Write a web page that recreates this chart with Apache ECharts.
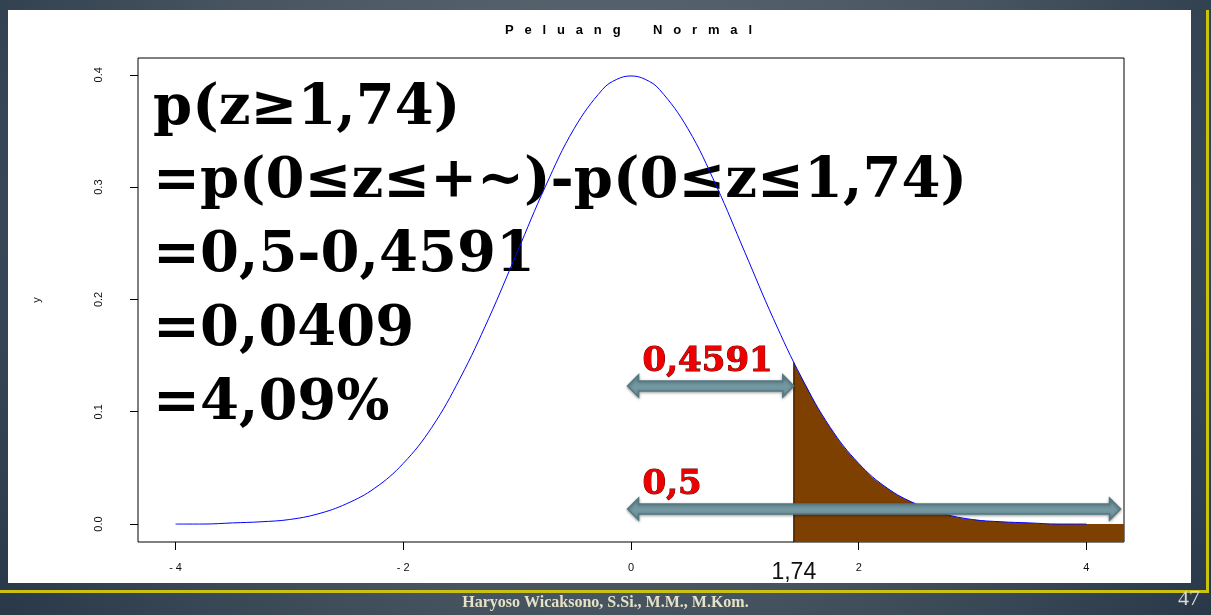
<!DOCTYPE html>
<html lang="id">
<head>
    <meta charset="UTF-8">
    <title>Peluang Normal</title>
    <style>
        html,
        body {
            margin: 0px;
            padding: 0px;
            width: 100%;
            height: 100%;
            overflow: hidden;
        }
        body {
            background: radial-gradient(ellipse 75% 130% at 50% 35%, #636e77 0%, #4a5763 45%, #1a2b3d 100%);
        }
        #panel {
            position: absolute;
            left: 8px;
            top: 10px;
            width: 1183px;
            height: 573px;
            background: #fff;
        }
        #lineH {
            position: absolute;
            left: 0px;
            top: 590px;
            width: 1209px;
            height: 3px;
            background: #c9c30f;
        }
        #lineV {
            position: absolute;
            left: 1206px;
            top: 10px;
            width: 3px;
            height: 583px;
            background: #c9c30f;
        }
        #echarts {
            position: absolute;
            left: 0px;
            top: 0px;
            width: 1211px;
            height: 615px;
        }
    </style>
</head>
<body>
    <div id="panel"></div>
    <div id="lineH"></div>
    <div id="lineV"></div>
    <div id="echarts"></div>
    <script src="https://cdn.jsdelivr.net/npm/echarts@6/dist/echarts.min.js"></script>
    <script>
        // kurva normal baku
        var curveX = [-4, -3.75, -3.5, -3.25, -3, -2.75, -2.5, -2.25, -2, -1.75, -1.5, -1.25, -1, -0.75, -0.5, -0.25, -0.125,
            0, 0.125, 0.25, 0.5, 0.75, 1, 1.25, 1.5, 1.75, 2, 2.25, 2.5, 2.75, 3, 3.25, 3.5, 3.75, 4];
        var curveY = [0.000, 0.000, 0.001, 0.002, 0.004, 0.009, 0.018, 0.032, 0.054, 0.086, 0.130, 0.183, 0.242, 0.301, 0.352, 0.387, 0.396,
            0.399, 0.396, 0.387, 0.352, 0.301, 0.242, 0.183, 0.130, 0.086, 0.054, 0.032, 0.018, 0.009, 0.004, 0.002, 0.001, 0.000, 0.000];

        // daerah yang diarsir (ekor kanan)
        var shadeX = [1.43, 1.5, 1.75, 2, 2.25, 2.5, 2.75, 3, 3.25, 3.5, 3.75, 4, 4.33];
        var shadeY = [0.144, 0.130, 0.086, 0.054, 0.032, 0.018, 0.009, 0.004, 0.002, 0.001, 0.000, 0.000, 0.000];
        var cutLabel = '1,74';

        // panah keterangan
        var arrowFrom = [-0.03, -0.03];
        var arrowTo = [1.43, 4.30];
        var arrowY = [0.123, 0.0134];
        var arrowText = ['0,4591', '0,5'];

        var xTicks = [-4, -2, 0, 2, 4];
        var yTicks = [0, 0.1, 0.2, 0.3, 0.4];
        var xRange = [-4.33, 4.33];
        var yRange = [-0.016, 0.415];

        var titleText = 'Peluang Normal';
        var formulaLines = [
            'p(z≥1,74)',
            '=p(0≤z≤+~)-p(0≤z≤1,74)',
            '=0,5-0,4591',
            '=0,0409',
            '=4,09%'
        ];
        var footerText = 'Haryoso Wicaksono, S.Si., M.M., M.Kom.';
        var pageNo = '47';

        var curveData = curveX.map(function (x, i) { return [x, curveY[i]]; });
        var shadeData = shadeX.map(function (x, i) { return [x, shadeY[i]]; });
        var arrowData = arrowFrom.map(function (x, i) { return [x, arrowTo[i], arrowY[i]]; });

        var spacedTitle = titleText.split(' ').map(function (w) {
            return w.split('').join('\u2002\u2004');
        }).join('\u2003\u2003\u2002');

        function renderArrow(params, api) {
            var a = api.coord([api.value(0), api.value(2)]);
            var b = api.coord([api.value(1), api.value(2)]);
            var y = a[1], hl = 11, hh = 11, sh = 5;
            var pts = [
                [a[0], y], [a[0] + hl, y - hh], [a[0] + hl, y - sh], [b[0] - hl, y - sh], [b[0] - hl, y - hh],
                [b[0], y], [b[0] - hl, y + hh], [b[0] - hl, y + sh], [a[0] + hl, y + sh], [a[0] + hl, y + hh]
            ];
            return {
                type: 'group',
                children: [{
                    type: 'polygon',
                    shape: { points: pts },
                    style: {
                        fill: '#7398a2', stroke: '#557882', lineWidth: 1.5,
                        shadowBlur: 3, shadowColor: 'rgba(0,0,0,0.35)', shadowOffsetY: 1
                    }
                }, {
                    type: 'text',
                    style: {
                        text: arrowText[params.dataIndex],
                        x: a[0] + 15,
                        y: y - 24,
                        fill: '#ee0000',
                        font: 'bold 34px "DejaVu Serif"',
                        align: 'left',
                        verticalAlign: 'middle',
                        stroke: '#5a0000',
                        lineWidth: 1,
                        shadowColor: 'rgba(40,0,0,0.85)',
                        shadowBlur: 2,
                        shadowOffsetX: 2,
                        shadowOffsetY: 2
                    }
                }]
            };
        }

        var myChart = echarts.init(document.getElementById('echarts'));

        var graphics = formulaLines.map(function (t, i) {
            return {
                type: 'text',
                z: 0,
                left: 153,
                top: 81 + i * 73.8,
                style: {
                    text: t,
                    fill: '#000',
                    font: 'bold 56px "DejaVu Serif"'
                }
            };
        });
        graphics.push({
            type: 'text',
            left: 'center',
            top: 595,
            style: { text: footerText, fill: '#e6e2c8', font: 'bold 16px "Liberation Serif"' }
        });
        graphics.push({
            type: 'text',
            right: 11,
            top: 588,
            style: { text: pageNo, fill: '#d8d8d0', font: '22px "Liberation Serif"' }
        });

        myChart.setOption({
            animation: false,
            title: {
                text: spacedTitle,
                left: 500,
                top: 19,
                textStyle: { fontSize: 13, fontWeight: 'bold', color: '#000', fontFamily: 'Liberation Sans' }
            },
            grid: {
                left: 138,
                top: 58,
                width: 986,
                height: 484,
                show: true,
                borderColor: '#000',
                borderWidth: 1,
                backgroundColor: 'transparent'
            },
            xAxis: [{
                type: 'value',
                min: xRange[0],
                max: xRange[1],
                splitLine: { show: false },
                axisLine: { show: false, onZero: false },
                axisTick: { show: true, customValues: xTicks, length: 8, lineStyle: { color: '#000' } },
                axisLabel: {
                    customValues: xTicks,
                    margin: 20,
                    fontSize: 11,
                    color: '#111',
                    fontFamily: 'Liberation Sans',
                    formatter: function (v) { return v < 0 ? '- ' + Math.abs(v) : String(v); }
                }
            }, {
                type: 'value',
                position: 'bottom',
                min: xRange[0],
                max: xRange[1],
                splitLine: { show: false },
                axisLine: { show: false, onZero: false },
                axisTick: { show: false },
                axisLabel: {
                    customValues: [shadeX[0]],
                    margin: 19,
                    fontSize: 23,
                    color: '#111',
                    fontFamily: 'Liberation Sans',
                    formatter: function () { return cutLabel; }
                }
            }],
            yAxis: {
                type: 'value',
                min: yRange[0],
                max: yRange[1],
                name: 'y',
                nameLocation: 'middle',
                nameRotate: 90,
                nameGap: 96,
                nameTextStyle: { fontSize: 11, color: '#111', fontFamily: 'Liberation Sans' },
                splitLine: { show: false },
                axisLine: { show: false, onZero: false },
                axisTick: { show: true, customValues: yTicks, length: 8, lineStyle: { color: '#000' } },
                axisLabel: {
                    customValues: yTicks,
                    rotate: 90,
                    margin: 34,
                    fontSize: 11,
                    color: '#111',
                    fontFamily: 'Liberation Sans',
                    formatter: function (v) { return v.toFixed(1); }
                }
            },
            graphic: graphics,
            series: [{
                name: 'arsir',
                type: 'line',
                data: shadeData,
                smooth: true,
                showSymbol: false,
                z: 2,
                lineStyle: { width: 0 },
                areaStyle: { color: '#7e4000', opacity: 1, origin: 'start' }
            }, {
                name: 'batas',
                type: 'line',
                data: [[shadeX[0], yRange[0]], [shadeX[0], shadeY[0]]],
                showSymbol: false,
                z: 3,
                lineStyle: { color: '#000', width: 1 }
            }, {
                name: 'kurva',
                type: 'line',
                data: curveData,
                smooth: 0.4,
                showSymbol: false,
                z: 4,
                lineStyle: { color: '#0000ff', width: 1 }
            }, {
                name: 'panah',
                type: 'custom',
                data: arrowData,
                encode: { x: [0, 1], y: 2 },
                z: 6,
                renderItem: renderArrow
            }]
        });

        window.addEventListener("resize", function () {
            myChart.resize();
        });
    </script>
</body>
</html>
